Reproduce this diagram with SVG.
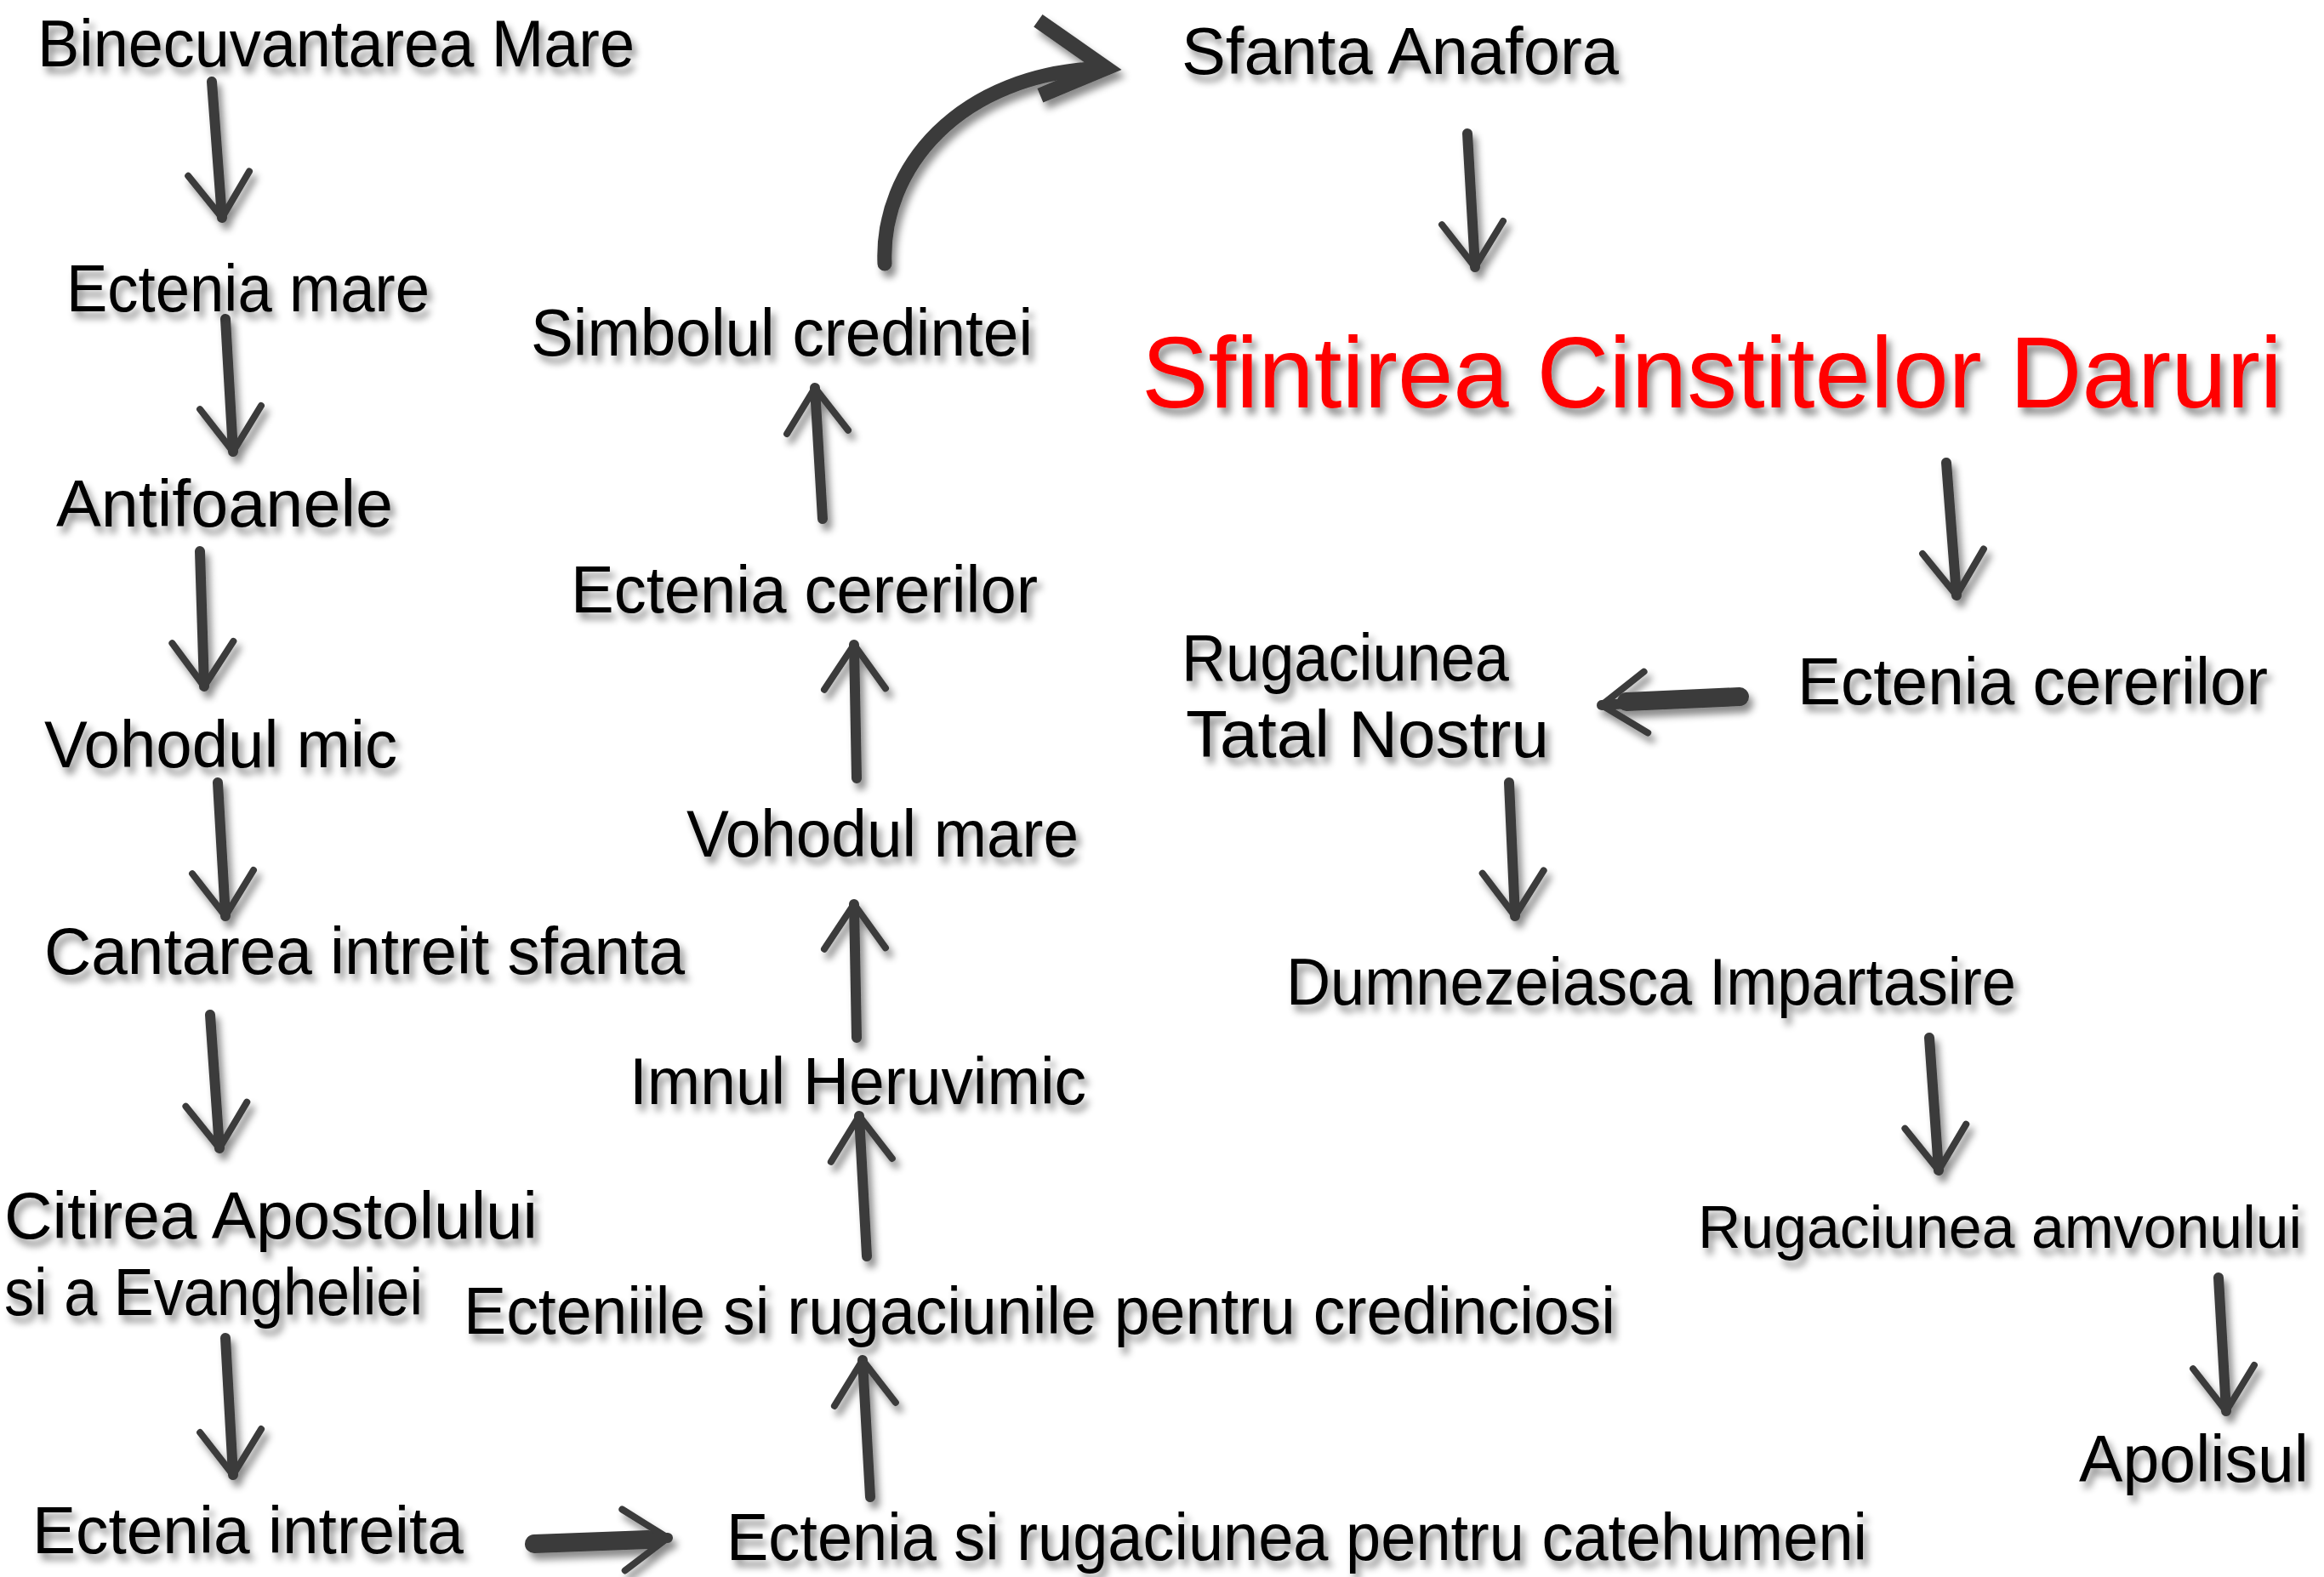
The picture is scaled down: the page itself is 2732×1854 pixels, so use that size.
<svg xmlns="http://www.w3.org/2000/svg" width="2732" height="1854" viewBox="0 0 2732 1854">
<style>
.t{font-family:"Liberation Sans","DejaVu Sans",sans-serif;font-size:78px;fill:#000;}
.red{font-size:118px;fill:#ff0000;}
.sm{font-size:70px;}
.sh{fill:none;stroke:#3b3b3b;stroke-width:12;stroke-linecap:round;}
.thick{stroke-width:22;}
.curve{stroke-width:17;}
</style>
<defs>
<filter id="ds" x="-10%" y="-20%" width="130%" height="160%">
<feDropShadow dx="5" dy="8" stdDeviation="4" flood-color="#000" flood-opacity="0.45"/>
</filter>
<marker id="ah" markerUnits="userSpaceOnUse" viewBox="-60 -45 70 90" markerWidth="70" markerHeight="90" refX="0" refY="0" orient="auto" overflow="visible">
<path d="M-52,-36 L0,0 L-52,36" fill="none" stroke="#3b3b3b" stroke-width="8" stroke-linecap="round" stroke-linejoin="round"/>
</marker>
<marker id="ahb" markerUnits="userSpaceOnUse" viewBox="-90 -50 100 100" markerWidth="100" markerHeight="100" refX="0" refY="0" orient="auto" overflow="visible">
<path d="M-78,-58 L0,0 L-78,30" fill="none" stroke="#3b3b3b" stroke-width="18" stroke-linecap="butt" stroke-linejoin="miter"/>
</marker>
</defs>
<rect width="2732" height="1854" fill="#ffffff"/>
<g id="connectors" filter="url(#ds)">
<path class="sh" marker-end="url(#ah)" d="M249,96 L261,256"/>
<path class="sh" marker-end="url(#ah)" d="M265,375 L274,531"/>
<path class="sh" marker-end="url(#ah)" d="M235,648 L240,807"/>
<path class="sh" marker-end="url(#ah)" d="M256,920 L265,1077"/>
<path class="sh" marker-end="url(#ah)" d="M247,1193 L258,1350"/>
<path class="sh" marker-end="url(#ah)" d="M265,1573 L274,1734"/>
<path class="sh thick" d="M628,1815 L762,1810"/>
<path class="sh" marker-end="url(#ah)" d="M700,1812 L785,1808" stroke-width="2"/>
<path class="sh" marker-end="url(#ah)" d="M1023,1760 L1014,1599"/>
<path class="sh" marker-end="url(#ah)" d="M1019,1477 L1010,1312"/>
<path class="sh" marker-end="url(#ah)" d="M1007,1220 L1004,1063"/>
<path class="sh" marker-end="url(#ah)" d="M1007,915 L1004,758"/>
<path class="sh" marker-end="url(#ah)" d="M967,610 L958,456"/>
<path class="sh curve" marker-end="url(#ahb)" d="M1040,310 C1035,200 1125,85 1300,80"/>
<path class="sh" marker-end="url(#ah)" d="M1725,157 L1734,314"/>
<path class="sh" marker-end="url(#ah)" d="M2288,544 L2300,700"/>
<path class="sh thick" d="M2045,819 L1912,825"/>
<path class="sh" marker-end="url(#ah)" d="M1960,824 L1883,829" stroke-width="2"/>
<path class="sh" marker-end="url(#ah)" d="M1774,920 L1781,1077"/>
<path class="sh" marker-end="url(#ah)" d="M2268,1220 L2279,1376"/>
<path class="sh" marker-end="url(#ah)" d="M2608,1502 L2617,1659"/>
</g>
<g filter="url(#ds)">
<g id="n1"><text class="t" x="44" y="78" textLength="702" lengthAdjust="spacingAndGlyphs">Binecuvantarea Mare</text></g>
<g id="n2"><text class="t" x="78" y="366" textLength="427" lengthAdjust="spacingAndGlyphs">Ectenia mare</text></g>
<g id="n3"><text class="t" x="66" y="619" textLength="396" lengthAdjust="spacingAndGlyphs">Antifoanele</text></g>
<g id="n4"><text class="t" x="52" y="902" textLength="415" lengthAdjust="spacingAndGlyphs">Vohodul mic</text></g>
<g id="n5"><text class="t" x="52" y="1145" textLength="753" lengthAdjust="spacingAndGlyphs">Cantarea intreit sfanta</text></g>
<g id="n6"><text class="t" x="5" y="1456" textLength="627" lengthAdjust="spacingAndGlyphs">Citirea Apostolului</text><text class="t" x="5" y="1546" textLength="492" lengthAdjust="spacingAndGlyphs">si a Evangheliei</text></g>
<g id="n7"><text class="t" x="38" y="1826" textLength="507" lengthAdjust="spacingAndGlyphs">Ectenia intreita</text></g>
<g id="n8"><text class="t" x="854" y="1834" textLength="1341" lengthAdjust="spacingAndGlyphs">Ectenia si rugaciunea pentru catehumeni</text></g>
<g id="n9"><text class="t" x="545" y="1568" textLength="1354" lengthAdjust="spacingAndGlyphs">Ecteniile si rugaciunile pentru credinciosi</text></g>
<g id="n10"><text class="t" x="740" y="1298" textLength="537" lengthAdjust="spacingAndGlyphs">Imnul Heruvimic</text></g>
<g id="n11"><text class="t" x="807" y="1007" textLength="461" lengthAdjust="spacingAndGlyphs">Vohodul mare</text></g>
<g id="n12"><text class="t" x="671" y="720" textLength="549" lengthAdjust="spacingAndGlyphs">Ectenia cererilor</text></g>
<g id="n13"><text class="t" x="624" y="418" textLength="590" lengthAdjust="spacingAndGlyphs">Simbolul credintei</text></g>
<g id="n14"><text class="t" x="1389" y="87" textLength="514" lengthAdjust="spacingAndGlyphs">Sfanta Anafora</text></g>
<g id="n15"><text class="t red" x="1342" y="479" textLength="1341" lengthAdjust="spacingAndGlyphs">Sfintirea Cinstitelor Daruri</text></g>
<g id="n16"><text class="t" x="2113" y="828" textLength="553" lengthAdjust="spacingAndGlyphs">Ectenia cererilor</text></g>
<g id="n17"><text class="t" x="1389" y="800" textLength="385" lengthAdjust="spacingAndGlyphs">Rugaciunea</text><text class="t" x="1394" y="890" textLength="427" lengthAdjust="spacingAndGlyphs">Tatal Nostru</text></g>
<g id="n18"><text class="t" x="1512" y="1181" textLength="858" lengthAdjust="spacingAndGlyphs">Dumnezeiasca Impartasire</text></g>
<g id="n19"><text class="t sm" x="1996" y="1467" textLength="710" lengthAdjust="spacingAndGlyphs">Rugaciunea amvonului</text></g>
<g id="n20"><text class="t" x="2444" y="1742" textLength="270" lengthAdjust="spacingAndGlyphs">Apolisul</text></g>
</g>
</svg>
